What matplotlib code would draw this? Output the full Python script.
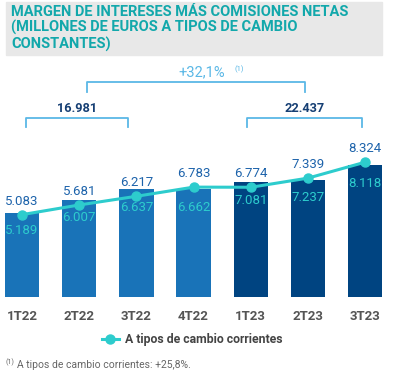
import matplotlib
matplotlib.use("Agg")
from matplotlib import pyplot as plt
from matplotlib.patches import Rectangle
from matplotlib.lines import Line2D

# data
quarters = ["1T22", "2T22", "3T22", "4T22", "1T23", "2T23", "3T23"]
constant_fx = [5.189, 6.007, 6.637, 6.662, 7.081, 7.237, 8.118]
current_fx = [5.083, 5.681, 6.217, 6.783, 6.774, 7.339, 8.324]
constant_labels = ["5.189", "6.007", "6.637", "6.662", "7.081", "7.237", "8.118"]
current_labels = ["5.083", "5.681", "6.217", "6.783", "6.774", "7.339", "8.324"]
total_2022 = "16.981"
total_2023 = "22.437"
growth = "+32,1%"

TEAL = "#2dcccd"
BLUE22 = "#1973b8"
NAVY23 = "#004481"
TITLE_C = "#12a8ab"
LABEL_C = "#1d63ab"
BRACKET_C = "#5bb8e6"
GRAY = "#555555"

plt.rcParams["font.family"] = ["Roboto", "DejaVu Sans"]

W, H = 393, 374
fig = plt.figure(figsize=(W / 100, H / 100), dpi=100)

# title box
fig.patches.append(Rectangle((6 / W, 1 - 55 / H), 376 / W, 53 / H,
                             transform=fig.transFigure, color="#e8e8e8", zorder=0))
fig.text(11 / W, 1 - 5 / H,
         "MARGEN DE INTERESES MÁS COMISIONES NETAS\n(MILLONES DE EUROS A TIPOS DE CAMBIO\nCONSTANTES)",
         ha="left", va="top", fontsize=10.5, fontweight="bold", color=TITLE_C,
         linespacing=1.12)

# axes mapped to pixels: baseline at y=297, centres at 22 + 57.2*i
px_unit = 16.2
ax = fig.add_axes([0, (H - 297) / H, 1, 237 / H])
ax.set_xlim(-22 / 57.2, (W - 22) / 57.2)
ax.set_ylim(0, 237 / px_unit)
ax.axis("off")

x = list(range(len(quarters)))
colors = [BLUE22] * 4 + [NAVY23] * 3
ax.bar(x, constant_fx, width=0.6, color=colors, zorder=2)
ax.plot(x, current_fx, color=TEAL, lw=2.2, marker="o", ms=6.5, zorder=3)

for i in x:
    ax.annotate(current_labels[i], (i, current_fx[i]), xytext=(0, 5),
                textcoords="offset points", ha="center", va="bottom",
                fontsize=9.5, color=LABEL_C, zorder=4)
    ax.annotate(constant_labels[i], (i, constant_fx[i]), xytext=(0, -13),
                textcoords="offset points", ha="center", va="center",
                fontsize=9.5, color=TEAL, zorder=4)
    ax.text(i, -19 / px_unit, quarters[i], ha="center", va="center",
            fontsize=9.5, fontweight="bold", color=GRAY)


def py(p):
    return (297 - p) / px_unit


def px(p):
    return (p - 22) / 57.2


def bracket(x0, x1, ytop, ybot):
    ax.plot([px(x0), px(x0), px(x1), px(x1)], [py(ybot), py(ytop), py(ytop), py(ybot)],
            color=BRACKET_C, lw=1.3, clip_on=False)


bracket(26, 128, 118, 127)
bracket(247, 362, 118, 127)
bracket(87, 305, 82, 92)
ax.text(px(77), py(109), total_2022, ha="center", va="center", fontsize=9.2,
        fontweight="bold", color="#163f74")
ax.text(px(305), py(109), total_2023, ha="center", va="center", fontsize=9.2,
        fontweight="bold", color="#163f74")
ax.text(px(202), py(72), growth, ha="center", va="center", fontsize=10.5,
        color=BRACKET_C)
ax.text(px(239), py(69), "(1)", ha="center", va="center", fontsize=5.5,
        color=BRACKET_C)

# legend
handle = Line2D([], [], color=TEAL, lw=2.2, marker="o", ms=6.5)
fig.legend([handle], ["A tipos de cambio corrientes"], loc="center",
           bbox_to_anchor=(192 / W, 1 - 340 / H), frameon=False,
           handlelength=1.4, handletextpad=0.5,
           prop={"size": 8.8, "weight": "bold"}, labelcolor="#444444")

fig.text(6 / W, 1 - 362 / H, "(1)", fontsize=5, color="#666666", va="center")
fig.text(17 / W, 1 - 365 / H, "A tipos de cambio corrientes: +25,8%.", fontsize=7.5,
         color="#666666", va="center")

fig.savefig("out.png", dpi=100)
